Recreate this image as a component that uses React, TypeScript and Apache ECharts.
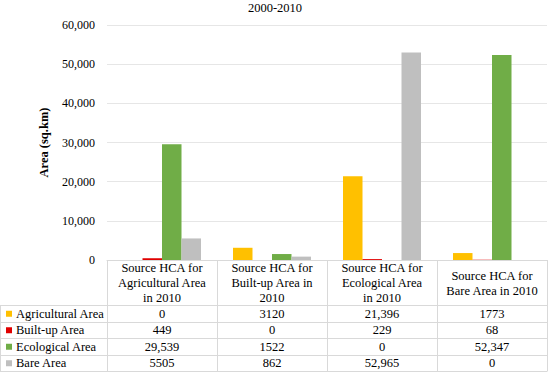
import React, { useEffect, useRef } from "react";
import * as echarts from "echarts";

const title = "2000-2010";
const categories = [
  "Source HCA for\nAgricultural Area\nin 2010",
  "Source HCA for\nBuilt-up Area in\n2010",
  "Source HCA for\nEcological Area\nin 2010",
  "Source HCA for\nBare Area in 2010",
];
const seriesNames = ["Agricultural Area", "Built-up Area", "Ecological Area", "Bare Area"];
const agricultural = [0, 3120, 21396, 1773];
const builtUp = [449, 0, 229, 68];
const ecological = [29539, 1522, 0, 52347];
const bare = [5505, 862, 52965, 0];
const colors = ["#FFC000", "#E00000", "#70AD47", "#BFBFBF"];
const yTicks = [0, 10000, 20000, 30000, 40000, 50000, 60000];

const FONT = "Liberation Serif, Times New Roman, serif";

const fmtTable = (v: number) => (v >= 10000 ? v.toLocaleString("en-US") : String(v));

export default function App() {
  const ref = useRef<HTMLDivElement>(null);
  useEffect(() => {
    if (!ref.current) return;
    const chart = echarts.init(ref.current, undefined, { renderer: "svg" });
    const values = [agricultural, builtUp, ecological, bare];

    const W = 550;
    const left = 107;
    const right = 547;
    const axisY = 260;
    const headerBottom = 305;
    const rowH = 16.5;
    const colW = (right - left) / categories.length;
    const lineColor = "#D9D9D9";

    const graphics: any[] = [];
    for (let r = 0; r <= seriesNames.length; r++) {
      const y = Math.round(headerBottom + r * rowH) + 0.5;
      graphics.push({
        type: "line",
        shape: { x1: 0, y1: y, x2: right, y2: y },
        style: { stroke: lineColor, lineWidth: 1 },
        silent: true,
      });
    }
    const tableBottom = Math.round(headerBottom + seriesNames.length * rowH) + 0.5;
    for (let c = 0; c <= categories.length; c++) {
      const x = Math.round(left + c * colW) + 0.5;
      graphics.push({
        type: "line",
        shape: { x1: x, y1: axisY, x2: x, y2: tableBottom },
        style: { stroke: lineColor, lineWidth: 1 },
        silent: true,
      });
    }
    graphics.push({
      type: "line",
      shape: { x1: 0.5, y1: headerBottom + 0.5, x2: 0.5, y2: tableBottom },
      style: { stroke: lineColor, lineWidth: 1 },
      silent: true,
    });
    seriesNames.forEach((name, r) => {
      const cy = headerBottom + r * rowH + rowH / 2 + 0.5;
      graphics.push({
        type: "rect",
        shape: { x: 6, y: cy - 3, width: 6, height: 6 },
        style: { fill: colors[r] },
        silent: true,
      });
      graphics.push({
        type: "text",
        x: 16,
        y: cy,
        style: { text: name, fontFamily: FONT, fontSize: 12.5, fill: "#000", align: "left", verticalAlign: "middle" },
        silent: true,
      });
      values[r].forEach((v, c) => {
        graphics.push({
          type: "text",
          x: left + c * colW + colW / 2,
          y: cy,
          style: { text: fmtTable(v), fontFamily: FONT, fontSize: 12.5, fill: "#000", align: "center", verticalAlign: "middle" },
          silent: true,
        });
      });
    });

    chart.setOption({
      animation: false,
      textStyle: { fontFamily: FONT },
      title: {
        text: title,
        left: "center",
        top: 1,
        padding: 0,
        textStyle: { fontFamily: FONT, fontSize: 12.5, fontWeight: "normal", color: "#000" },
      },
      grid: { left, right: W - right, top: 25, bottom: 374 - axisY, containLabel: false },
      xAxis: {
        type: "category",
        data: categories,
        axisLine: { lineStyle: { color: lineColor } },
        axisTick: { show: false },
        axisLabel: {
          interval: 0,
          margin: 23,
          verticalAlign: "middle",
          fontFamily: FONT,
          fontSize: 12.5,
          lineHeight: 15,
          color: "#000",
        },
      },
      yAxis: {
        type: "value",
        min: 0,
        max: 60000,
        interval: 10000,
        name: "Area (sq.km)",
        nameLocation: "middle",
        nameGap: 57,
        nameTextStyle: { fontFamily: FONT, fontSize: 12.5, fontWeight: "bold", color: "#000" },
        axisLine: { show: false },
        axisTick: { show: false },
        splitLine: { lineStyle: { color: "#E6E6E6" } },
        axisLabel: {
          fontFamily: FONT,
          fontSize: 12,
          color: "#000",
          margin: 12,
          formatter: (v: number) => (yTicks.includes(v) ? v.toLocaleString("en-US") : ""),
        },
      },
      series: seriesNames.map((name, i) => ({
        name,
        type: "bar",
        data: values[i],
        barWidth: 19.5,
        barGap: "0%",
        itemStyle: { color: colors[i] },
      })),
      graphic: graphics,
    });
    return () => chart.dispose();
  }, []);
  return <div ref={ref} style={{ width: 550, height: 374, position: "absolute", left: 0, top: 0 }} />;
}
